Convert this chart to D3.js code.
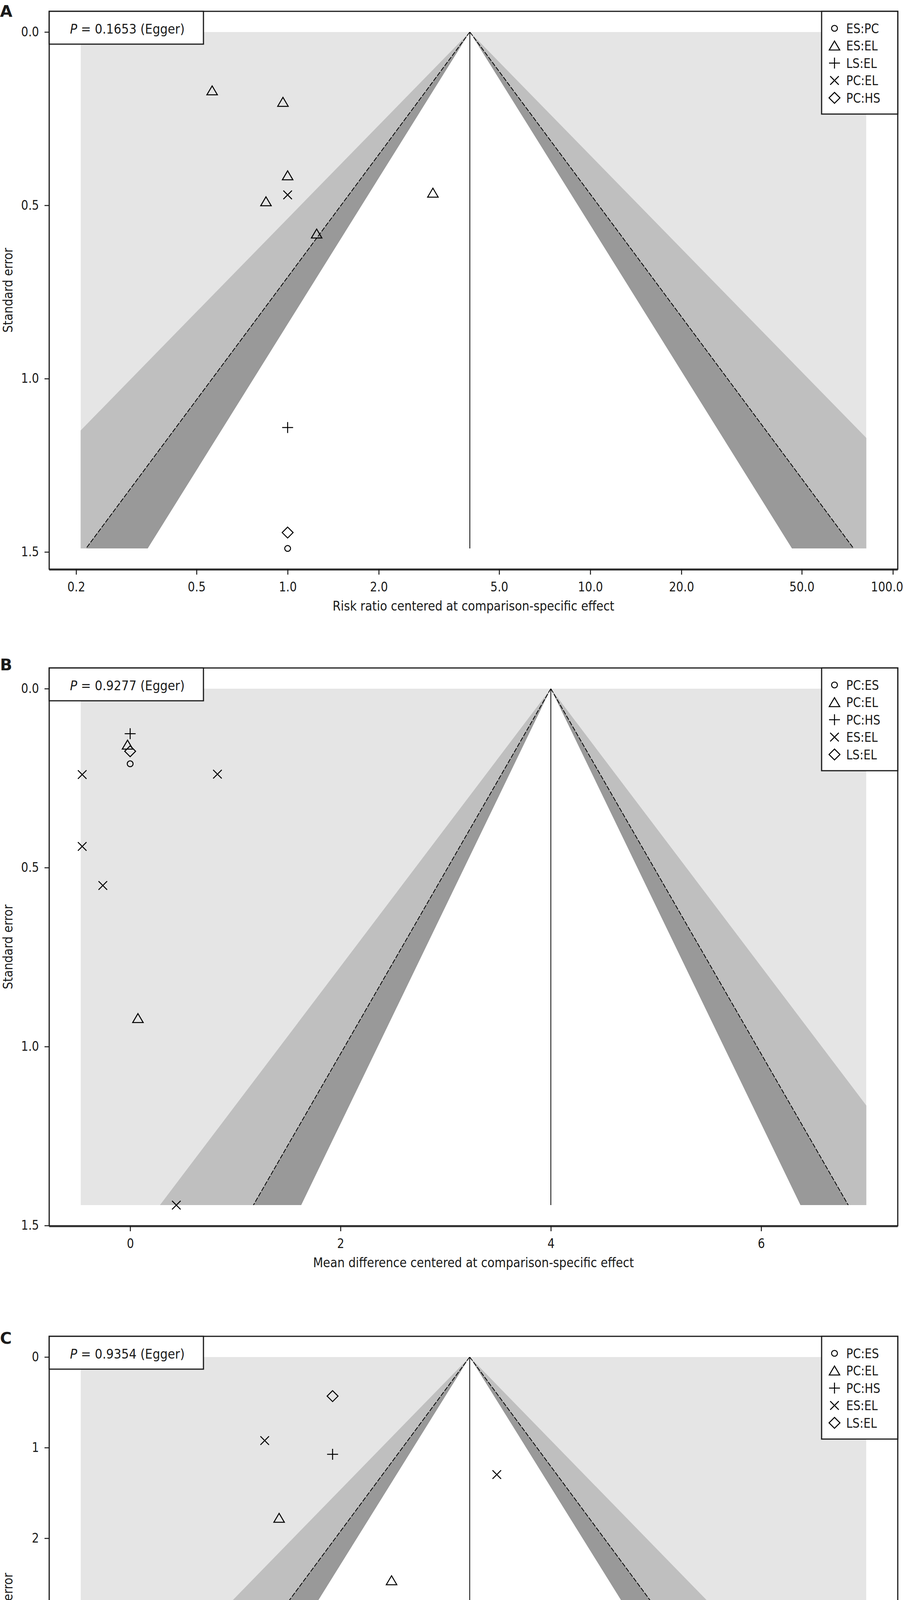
<!DOCTYPE html>
<html>
<head>
<meta charset="utf-8">
<script src="https://cdn.jsdelivr.net/npm/d3@7"></script>
<style>
  body { margin: 0; background: #fff; }
  svg { display: block; }
  text { font-family: "DejaVu Sans", Verdana, sans-serif; fill: #1a1a1a; }
</style>
</head>
<body>
<svg id="chart"></svg>
<script>
// ---- data ----
const panelLetters = ["A", "B", "C"];
const eggerP = ["0.1653", "0.9277", "0.9354"];
const xTitles = [
  "Risk ratio centered at comparison-specific effect",
  "Mean difference centered at comparison-specific effect",
  "Mean difference centered at comparison-specific effect"
];

// legend order = symbol order (circle, triangle, plus, cross, diamond)
const comparisonsA = ["ES:PC", "ES:EL", "LS:EL", "PC:EL", "PC:HS"];
const comparisonsBC = ["PC:ES", "PC:EL", "PC:HS", "ES:EL", "LS:EL"];

// funnel centre, data span of the shaded area, largest standard error
const centres = [4, 4, 4];
const xSpanA = [0.207, 81.7];
const xSpanB = [-0.471, 7.0];
const xSpanC = [-7.35, 15.57];
const seMax = [1.49, 1.443, 5.70];

// contour levels: 99%, 95%, 90%
const zLevels = [2.576, 1.96, 1.645];

const xTicksA = [0.2, 0.5, 1, 2, 5, 10, 20, 50, 100];
const yTicksA = [0, 0.5, 1, 1.5];
const xTicksB = [0, 2, 4, 6];
const yTicksB = [0, 0.5, 1, 1.5];
const xTicksC = [-5, 0, 5, 10, 15];
const yTicksC = [0, 1, 2, 3, 4, 5];

// [comparison, effect, standard error]
const studiesA = [
  ["ES:PC", 1.0, 1.49],
  ["ES:EL", 0.563, 0.169],
  ["ES:EL", 0.965, 0.202],
  ["ES:EL", 1.0, 0.414],
  ["ES:EL", 0.848, 0.489],
  ["ES:EL", 3.02, 0.464],
  ["ES:EL", 1.247, 0.582],
  ["LS:EL", 1.0, 1.141],
  ["PC:EL", 1.0, 0.470],
  ["PC:HS", 1.0, 1.444]
];
const studiesB = [
  ["PC:ES", 0.0, 0.21],
  ["PC:EL", -0.025, 0.157],
  ["PC:EL", 0.074, 0.921],
  ["PC:HS", 0.0, 0.126],
  ["ES:EL", -0.456, 0.240],
  ["ES:EL", 0.83, 0.239],
  ["ES:EL", -0.456, 0.441],
  ["ES:EL", -0.26, 0.550],
  ["ES:EL", 0.439, 1.443],
  ["LS:EL", 0.0, 0.175]
];
const studiesC = [
  ["PC:ES", 0.0, 2.777],
  ["PC:EL", -1.56, 1.777],
  ["PC:EL", 1.72, 2.466],
  ["PC:HS", 0.0, 1.074],
  ["ES:EL", -1.98, 0.922],
  ["ES:EL", 4.79, 1.298],
  ["ES:EL", -5.78, 3.803],
  ["ES:EL", 0.865, 5.175],
  ["ES:EL", -5.78, 5.638],
  ["ES:EL", 7.49, 5.70],
  ["LS:EL", 0.0, 0.432]
];

// ---- layout ----
const W = 2315, H = 4975;
const frameLeft = 126, frameRight = 2299, frameH = 1428;
const panelTops = [29, 1710, 3421];
const letterBaselines = [43, 1716, 3440];
const bandFill = ["#bfbfbf", "#999999", "#ffffff"];
const squeezeK = 0.875;

const svg = d3.select("#chart").attr("width", W).attr("height", H);
svg.append("rect").attr("width", W).attr("height", H).attr("fill", "#fff");

// marker shapes, same order as the legend
const shapes = [
  { draw(c) { c.moveTo(7.5, 0); c.arc(0, 0, 7.5, 0, 2 * Math.PI); } },
  { draw(c) { c.moveTo(0, -12); c.lineTo(13.5, 11); c.lineTo(-13.5, 11); c.closePath(); } },
  { draw(c) { c.moveTo(-14, 0); c.lineTo(14, 0); c.moveTo(0, -14); c.lineTo(0, 14); } },
  { draw(c) { c.moveTo(-11, -11); c.lineTo(11, 11); c.moveTo(-11, 11); c.lineTo(11, -11); } },
  { draw(c) { c.moveTo(0, -14); c.lineTo(14, 0); c.lineTo(0, 14); c.lineTo(-14, 0); c.closePath(); } }
];
const symbolFor = i => d3.symbol().type(shapes[i])();

// narrow the text horizontally (the figure font is narrower than DejaVu)
function squeeze(sel, k) {
  sel.each(function () {
    const t = d3.select(this);
    const x = +t.attr("x") || 0, y = +t.attr("y") || 0;
    t.attr("x", null).attr("y", null)
      .attr("transform", `translate(${x},${y}) scale(${k},1)`);
  });
}

const panels = [
  { log: true, xSpan: xSpanA, xTicks: xTicksA, yTicks: yTicksA, studies: studiesA, groups: comparisonsA,
    xFmt: d3.format(".1f"), yFmt: d3.format(".1f") },
  { log: false, xSpan: xSpanB, xTicks: xTicksB, yTicks: yTicksB, studies: studiesB, groups: comparisonsBC,
    xFmt: d => String(d), yFmt: d3.format(".1f") },
  { log: false, xSpan: xSpanC, xTicks: xTicksC, yTicks: yTicksC, studies: studiesC, groups: comparisonsBC,
    xFmt: d => String(d), yFmt: d => String(d) }
];

panels.forEach((cfg, pi) => {
  const top = panelTops[pi], bottom = top + frameH;
  const centre = centres[pi], sMax = seMax[pi];
  const g = svg.append("g");

  // scales with R-style 4% padding
  let x;
  if (cfg.log) {
    const span = cfg.xSpan.map(Math.log10);
    const pad = (span[1] - span[0]) * 0.04;
    x = d3.scaleLog().domain([10 ** (span[0] - pad), 10 ** (span[1] + pad)]).range([frameLeft, frameRight]);
  } else {
    const pad = (cfg.xSpan[1] - cfg.xSpan[0]) * 0.04;
    x = d3.scaleLinear().domain([cfg.xSpan[0] - pad, cfg.xSpan[1] + pad]).range([frameLeft, frameRight]);
  }
  const y = d3.scaleLinear().domain([-0.04 * sMax, 1.04 * sMax]).range([top, bottom]);

  const bound = (z, s, side) => cfg.log ? centre * Math.exp(side * z * s) : centre + side * z * s;
  const line = d3.line().x(d => x(d[0])).y(d => y(d[1]));

  // shaded area
  const clipId = "clip" + panelLetters[pi];
  const rx = x(cfg.xSpan[0]), rw = x(cfg.xSpan[1]) - rx, ry = y(0), rh = y(sMax) - ry;
  g.append("clipPath").attr("id", clipId).append("rect")
    .attr("x", rx).attr("y", ry).attr("width", rw).attr("height", rh);
  const plot = g.append("g").attr("clip-path", `url(#${clipId})`);
  plot.append("rect").attr("x", rx).attr("y", ry).attr("width", rw).attr("height", rh).attr("fill", "#e5e5e5");

  zLevels.forEach((z, i) => {
    plot.append("path")
      .attr("d", line([[centre, 0], [bound(z, sMax, -1), sMax], [bound(z, sMax, 1), sMax]]) + "Z")
      .attr("fill", bandFill[i]);
  });

  // 95% pseudo-confidence limits
  [-1, 1].forEach(side => {
    plot.append("path")
      .attr("d", line([[centre, 0], [bound(1.96, sMax, side), sMax]]))
      .attr("fill", "none").attr("stroke", "#000").attr("stroke-width", 2)
      .attr("stroke-dasharray", "12,4");
  });

  // centre line
  g.append("path").attr("d", line([[centre, 0], [centre, sMax]]))
    .attr("stroke", "#000").attr("stroke-width", 2);

  // studies
  g.selectAll(".pt").data(cfg.studies).join("path")
    .attr("class", "pt")
    .attr("transform", d => `translate(${x(d[1])},${y(d[2])})`)
    .attr("d", d => symbolFor(cfg.groups.indexOf(d[0])))
    .attr("fill", "none").attr("stroke", "#000").attr("stroke-width", 2.5);

  // frame
  g.append("rect").attr("x", frameLeft).attr("y", top)
    .attr("width", frameRight - frameLeft).attr("height", frameH)
    .attr("fill", "none").attr("stroke", "#1a1a1a").attr("stroke-width", 3);
  g.append("line").attr("x1", frameLeft).attr("x2", frameRight)
    .attr("y1", bottom + 2).attr("y2", bottom + 2)
    .attr("stroke", "#333").attr("stroke-width", 3);

  // axes
  const yAxis = g.append("g").attr("transform", `translate(${frameLeft},0)`)
    .call(d3.axisLeft(y).tickValues(cfg.yTicks).tickFormat(cfg.yFmt).tickSize(12).tickPadding(14));
  const xAxis = g.append("g").attr("transform", `translate(0,${bottom})`)
    .call(d3.axisBottom(x).tickValues(cfg.xTicks).tickFormat(cfg.xFmt).tickSize(14).tickPadding(20));
  [yAxis, xAxis].forEach(a => {
    a.attr("font-size", 33).attr("font-family", null);
    a.select(".domain").remove();
    a.selectAll("line").attr("stroke", "#1a1a1a").attr("stroke-width", 2.5);
    a.selectAll("text").attr("fill", "#1a1a1a").call(squeeze, squeezeK);
  });
  // keep the last tick label inside the page
  xAxis.selectAll(".tick text").each(function () {
    const over = this.getBoundingClientRect().right - (W - 2);
    if (over > 0) {
      const t = d3.select(this);
      t.attr("transform", `translate(${-over},0) ` + t.attr("transform"));
    }
  });

  // axis titles
  g.append("text")
    .attr("transform", `translate(${(frameLeft + frameRight) / 2},${bottom + 106}) scale(${squeezeK},1)`)
    .attr("text-anchor", "middle").attr("font-size", 34)
    .text(xTitles[pi]);
  g.append("text")
    .attr("transform", `translate(32,${top + frameH / 2}) rotate(-90) scale(${squeezeK},1)`)
    .attr("text-anchor", "middle").attr("font-size", 34)
    .text("Standard error");

  // Egger box
  g.append("rect").attr("x", frameLeft).attr("y", top).attr("width", 395).attr("height", 84)
    .attr("fill", "#fff").attr("stroke", "#1a1a1a").attr("stroke-width", 3);
  const pt = g.append("text")
    .attr("transform", `translate(326,${top + 57}) scale(0.9,1)`)
    .attr("text-anchor", "middle").attr("font-size", 34);
  pt.append("tspan").attr("font-style", "italic").text("P");
  pt.append("tspan").text(` = ${eggerP[pi]} (Egger)`);

  // legend
  const lx = 2104;
  g.append("rect").attr("x", lx).attr("y", top).attr("width", frameRight - lx).attr("height", 263)
    .attr("fill", "#fff").attr("stroke", "#1a1a1a").attr("stroke-width", 3);
  const item = g.selectAll(".leg").data(cfg.groups).join("g")
    .attr("class", "leg")
    .attr("transform", (d, i) => `translate(${lx},${top + 43.5 + i * 44.5})`);
  item.append("path").attr("transform", "translate(33,0)")
    .attr("d", (d, i) => symbolFor(i))
    .attr("fill", "none").attr("stroke", "#000").attr("stroke-width", 2.5);
  item.append("text")
    .attr("transform", `translate(63,12) scale(${squeezeK},1)`)
    .attr("font-size", 33)
    .text(d => d);

  // panel letter
  svg.append("text").attr("x", 0).attr("y", letterBaselines[pi])
    .attr("font-size", 41).attr("font-weight", "bold")
    .text(panelLetters[pi]);
});
</script>
</body>
</html>
